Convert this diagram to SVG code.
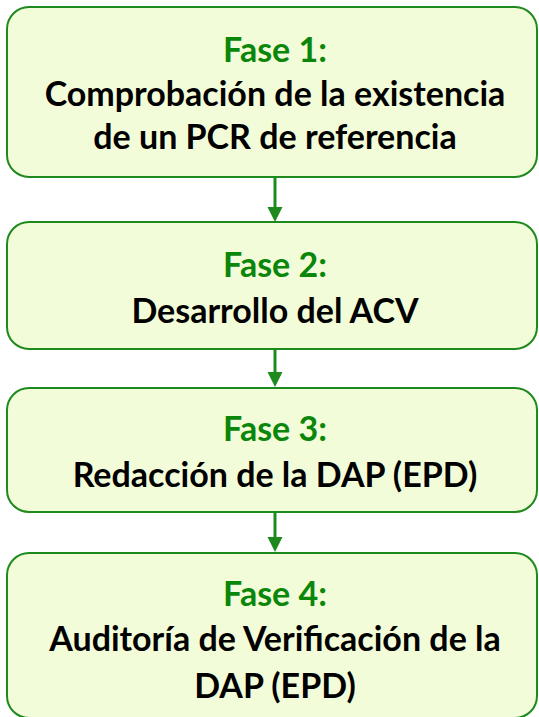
<svg xmlns="http://www.w3.org/2000/svg" width="539" height="717" viewBox="0 0 539 717">
<defs>
<style>
.box{fill:#F3FCD8;stroke:#1E8A1E;stroke-width:2}
.t{font-family:Lato,"Open Sans","Liberation Sans",sans-serif;font-weight:bold;font-size:34px;text-anchor:middle}
.g{fill:#0A860A}
.k{fill:#000}
.c{stroke:#1E8A1E;stroke-width:3;fill:none}
.h{fill:#1E8A1E}
</style>
</defs>
<g id="connectors">
<path class="c" d="M275,177 V208"/>
<path class="h" d="M267.5,207 H282.5 L275,222 Z"/>
<path class="c" d="M275,349 V373"/>
<path class="h" d="M267.5,372 H282.5 L275,387 Z"/>
<path class="c" d="M275,512 V538"/>
<path class="h" d="M267.5,537 H282.5 L275,552 Z"/>
</g>
<g id="fase1">
<rect class="box" x="7" y="7" width="530" height="170" rx="22"/>
<text class="t g" x="275" y="62">Fase 1:</text>
<text class="t k" x="275" y="106">Comprobación de la existencia</text>
<text class="t k" x="275" y="149">de un PCR de referencia</text>
</g>
<g id="fase2">
<rect class="box" x="7" y="222" width="530" height="127" rx="22"/>
<text class="t g" x="275" y="277">Fase 2:</text>
<text class="t k" x="275" y="323">Desarrollo del ACV</text>
</g>
<g id="fase3">
<rect class="box" x="7" y="388" width="530" height="124" rx="22"/>
<text class="t g" x="275" y="441">Fase 3:</text>
<text class="t k" x="275" y="487">Redacción de la DAP (EPD)</text>
</g>
<g id="fase4">
<rect class="box" x="7" y="553" width="530" height="165" rx="22"/>
<text class="t g" x="275" y="606">Fase 4:</text>
<text class="t k" x="275" y="651">Auditoría de Verificación de la</text>
<text class="t k" x="275" y="698">DAP (EPD)</text>
</g>
</svg>
